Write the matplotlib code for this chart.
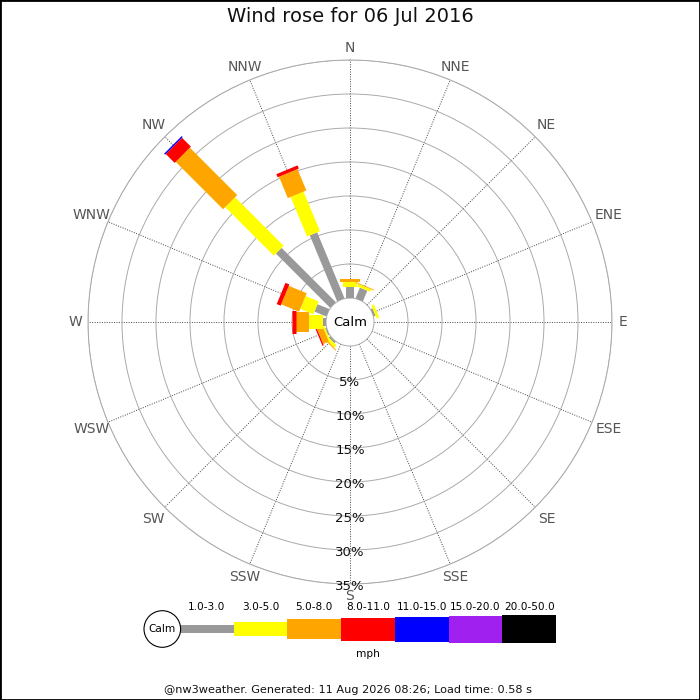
import numpy as np
import matplotlib
matplotlib.use("Agg")
import matplotlib.pyplot as plt
from matplotlib.patches import Circle, Rectangle

# ---------------- data ----------------
directions = ['N', 'NNE', 'NE', 'ENE', 'E', 'ESE', 'SE', 'SSE',
              'S', 'SSW', 'SW', 'WSW', 'W', 'WNW', 'NW', 'NNW']
speed_bins = ['1.0-3.0', '3.0-5.0', '5.0-8.0', '8.0-11.0',
              '11.0-15.0', '15.0-20.0', '20.0-50.0']
# percentage of time per direction for each speed bin
pct_1_3 = [1.66, 1.70, 0, 0.30, 0, 0, 0, 0, 0, 0, 0.30, 0.20, 0.44, 1.88, 11.30, 10.50]
pct_3_5 = [0.65, 0.40, 0, 0.40, 0, 0, 0, 0, 0, 0, 0.50, 0.25, 2.02, 2.09, 10.10, 6.30]
pct_5_8 = [0.44, 0.12, 0, 0.00, 0, 0, 0, 0, 0, 0, 0.15, 0.90, 1.95, 2.85, 9.85, 3.40]
pct_8_11 = [0, 0, 0, 0, 0, 0, 0, 0, 0, 0, 0, 0.20, 0.63, 0.62, 1.85, 0.50]
pct_11_15 = [0, 0, 0, 0, 0, 0, 0, 0, 0, 0, 0, 0, 0, 0, 0.20, 0]
pct_15_20 = [0] * 16
pct_20_50 = [0] * 16
range_ticks = [5, 10, 15, 20, 25, 30, 35]
title = 'Wind rose for 06 Jul 2016'
footer = '@nw3weather. Generated: 11 Aug 2026 08:26; Load time: 0.58 s'

# ---------------- style ----------------
series = [pct_1_3, pct_3_5, pct_5_8, pct_8_11, pct_11_15, pct_15_20, pct_20_50]
colors = ['#999999', '#ffff00', '#ffa500', '#ff0000', '#0000ff', '#a020f0', '#000000']
widths_px = [8, 14, 20, 23, 25, 27, 28]
W, H = 700, 700
DPI = 100
px2pt = 72.0 / DPI

cx, cy = 350, 322          # centre in px (from top)
R_out = 262                # px radius of 35% circle
R_calm = 24                # px radius of calm circle
rmax = 35
scale = (R_out - R_calm) / rmax   # px per %
rorigin = -R_calm / scale

fig = plt.figure(figsize=(W / DPI, H / DPI), dpi=DPI)
fig.patch.set_facecolor('white')

ax = fig.add_axes([(cx - R_out) / W, (H - cy - R_out) / H, 2 * R_out / W, 2 * R_out / H],
                  projection='polar')
ax.set_theta_zero_location('N')
ax.set_theta_direction(-1)
ax.set_ylim(0, rmax)
ax.set_rorigin(rorigin)
ax.set_facecolor('none')

theta = np.deg2rad(np.arange(16) * 22.5)
ax.set_xticks(theta)
ax.set_xticklabels([])
ax.set_yticks(range_ticks)
ax.set_yticklabels([])
ax.tick_params(length=0)
ax.xaxis.grid(True, color='#444444', linestyle=(0, (1, 1.5)), linewidth=0.7)
ax.yaxis.grid(True, color='#aaaaaa', linestyle='-', linewidth=0.7)
for name, sp in ax.spines.items():
    if name in ('polar', 'inner'):
        sp.set_color('#aaaaaa')
        sp.set_linewidth(0.7)
    else:
        sp.set_visible(False)

# bars
for i, th in enumerate(theta):
    start = 0.0
    for s, c, w in zip(series, colors, widths_px):
        v = s[i]
        if v > 0:
            ax.plot([th, th], [start, start + v], color=c, lw=w * px2pt,
                    solid_capstyle='butt', zorder=3)
        start += v

# direction labels (distance grows with horizontal extent of the label)
label_r_px = [274, 276, 278, 280, 273, 280, 278, 276,
              274, 276, 278, 280, 275, 280, 278, 276]
for th, name, rp in zip(theta, directions, label_r_px):
    ax.text(th, (rp - R_calm) / scale, name, ha='center', va='center',
            fontsize=10, color='#555555', clip_on=False)

# range labels
for r in range_ticks:
    ax.text(np.pi, r + 3 / scale, f'{r}%', ha='center', va='center',
            fontsize=9.5, color='#111111', clip_on=False, zorder=4)

ax.text(0.5, 0.5, 'Calm', transform=ax.transAxes, ha='center', va='center',
        fontsize=9.5, color='black', zorder=5)

# title
fig.text(0.5, 1 - 17 / H, title, ha='center', va='center', fontsize=14, color='#111111')

# legend
leg_left, leg_right, leg_cy = 180, 556, 629
leg_h = 30
lax = fig.add_axes([leg_left / W, (H - leg_cy - leg_h / 2) / H,
                    (leg_right - leg_left) / W, leg_h / H])
lax.set_xlim(0, len(speed_bins))
lax.set_ylim(-leg_h / 2, leg_h / 2)
lax.axis('off')
lax.bar(np.arange(len(speed_bins)), widths_px, bottom=[-h / 2 for h in widths_px],
        width=1.0, align='edge', color=colors, linewidth=0)
for i, lab in enumerate(speed_bins):
    lax.text(i + 0.5, 22, lab, ha='center', va='center', fontsize=7.6, clip_on=False)
lax.text(len(speed_bins) / 2, -25, 'mph', ha='center', va='center', fontsize=7.6,
         clip_on=False)

circ = Circle((162.3 / W, (H - leg_cy) / H), 18.3 / W, transform=fig.transFigure,
              facecolor='white', edgecolor='black', linewidth=0.8)
fig.patches.append(circ)
fig.text(162.3 / W, (H - leg_cy) / H, 'Calm', ha='center', va='center', fontsize=7.6)

# footer
fig.text(348 / W, 1 - 690 / H, footer, ha='center', va='center', fontsize=8.1, color='#111111')

# frame
fig.patches.append(Rectangle((0, 0), 1, 1, transform=fig.transFigure, fill=False,
                             edgecolor='black', linewidth=2))

fig.savefig('out.png', dpi=DPI, facecolor='white')
